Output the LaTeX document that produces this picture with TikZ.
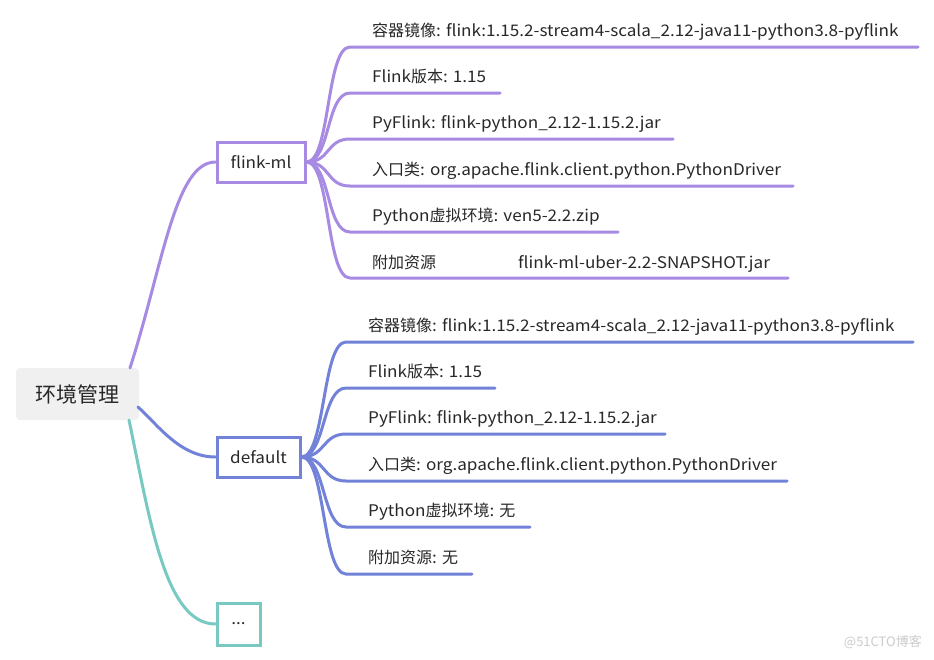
\documentclass[tikz,border=0pt]{standalone}
\usepackage{fontspec}
\setmainfont[FakeStretch=1.07]{Noto Sans CJK SC}
\newfontfamily\cjk{Noto Sans CJK SC}
\definecolor{pur}{RGB}{167,138,226}
\definecolor{blu}{RGB}{114,130,216}
\definecolor{tea}{RGB}{119,201,194}
\definecolor{txt}{RGB}{40,40,40}
\definecolor{rootbg}{RGB}{240,240,240}
\begin{document}
\begin{tikzpicture}[x=1pt,y=-1pt,
  conn/.style={line width=3pt,line cap=round},
  branchbox/.style={draw,line width=3pt,fill=white,minimum height=40pt,inner sep=0pt,text=txt,font=\fontsize{16}{18}\selectfont},
  leaf/.style={anchor=base west,inner sep=0pt,text=txt,font=\fontsize{16}{18}\selectfont},
  ]
\useasboundingbox (0,0) rectangle (934,659);
\fill[white] (0,0) rectangle (934,659);
% root
\node[fill=rootbg,rounded corners=4pt,minimum width=123pt,minimum height=52pt,inner sep=0pt,text=txt,font=\fontsize{21}{23}\selectfont\cjk] (root) at (77.5,394) {环境管理};
\coordinate (rtop) at (130,368);
\coordinate (rright) at (138,407);
\coordinate (rbot) at (129,420);
% branch boxes
\node[branchbox,draw=pur,minimum width=88pt] (fm) at (261,162) {flink-ml};
\node[branchbox,draw=blu,minimum width=83pt] (df) at (258.5,457) {default};
\node[branchbox,draw=tea,minimum width=43pt,minimum height=42pt] (dots) at (238.5,624) {...};
% root connectors
\draw[conn,pur] (rtop) .. controls (163,265) and (175,162) .. (fm.west);
\draw[conn,blu] (rright) .. controls (158,425) and (180,457) .. (df.west);
\draw[conn,tea] (rbot) .. controls (150,520) and (165,624) .. (dots.west);
% flink-ml leaves
\node[leaf] (a1) at (372,36) {{\cjk 容器镜像}: flink:1.15.2-stream4-scala\_2.12-java11-python3.8-pyflink};
\node[leaf] (a2) at (372,82) {Flink{\cjk 版本}: 1.15};
\node[leaf] (a3) at (372,128) {PyFlink: flink-python\_2.12-1.15.2.jar};
\node[leaf] (a4) at (372,175) {{\cjk 入口类}: org.apache.flink.client.python.PythonDriver};
\node[leaf] (a5) at (372,221) {Python{\cjk 虚拟环境}: ven5-2.2.zip};
\node[leaf] (a6) at (372,268) {{\cjk 附加资源}};
\node[leaf] (a6b) at (518,268) {flink-ml-uber-2.2-SNAPSHOT.jar};
\coordinate (a1s) at (350,47);  \coordinate (a1e) at (918,47);
\coordinate (a2s) at (350,93);  \coordinate (a2e) at (500,93);
\coordinate (a3s) at (350,139); \coordinate (a3e) at (673,139);
\coordinate (a4s) at (350,186); \coordinate (a4e) at (793,186);
\coordinate (a5s) at (350,232); \coordinate (a5e) at (618,232);
\coordinate (a6s) at (350,278); \coordinate (a6e) at (788,278);
\foreach \i in {1,...,6}{
  \draw[conn,pur] (fm.east) .. controls +(24,0) and +(-24,0) .. (a\i s) -- (a\i e);
}
% default leaves
\node[leaf] (b1) at (368,331) {{\cjk 容器镜像}: flink:1.15.2-stream4-scala\_2.12-java11-python3.8-pyflink};
\node[leaf] (b2) at (368,377) {Flink{\cjk 版本}: 1.15};
\node[leaf] (b3) at (368,423) {PyFlink: flink-python\_2.12-1.15.2.jar};
\node[leaf] (b4) at (368,470) {{\cjk 入口类}: org.apache.flink.client.python.PythonDriver};
\node[leaf] (b5) at (368,516) {Python{\cjk 虚拟环境}: {\cjk 无}};
\node[leaf] (b6) at (368,563) {{\cjk 附加资源}: {\cjk 无}};
\coordinate (b1s) at (346,342); \coordinate (b1e) at (913,342);
\coordinate (b2s) at (346,388); \coordinate (b2e) at (495,388);
\coordinate (b3s) at (346,434); \coordinate (b3e) at (665,434);
\coordinate (b4s) at (346,481); \coordinate (b4e) at (787,481);
\coordinate (b5s) at (346,527); \coordinate (b5e) at (530,527);
\coordinate (b6s) at (346,574); \coordinate (b6e) at (472,574);
\foreach \i in {1,...,6}{
  \draw[conn,blu] (df.east) .. controls +(24,0) and +(-24,0) .. (b\i s) -- (b\i e);
}
% watermark
\node[anchor=base east,inner sep=0pt,text=black!20,font=\fontsize{13}{15}\selectfont\cjk] (wm) at (922,646) {@51CTO博客};
\end{tikzpicture}
\end{document}
